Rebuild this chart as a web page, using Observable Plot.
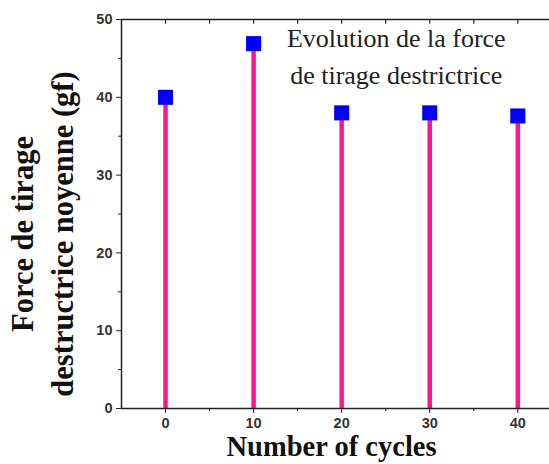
<!DOCTYPE html>
<html>
<head>
<meta charset="utf-8">
<script src="https://cdn.jsdelivr.net/npm/d3@7"></script>
<script src="https://cdn.jsdelivr.net/npm/@observablehq/plot@0.6"></script>
<style>
body { margin: 0; background: #fff; }
</style>
</head>
<body>
<div id="chart"></div>
<script>
const cycles = [0, 10, 20, 30, 40];
const force = [40, 46.9, 38, 38, 37.6];
const yMajor = [0, 10, 20, 30, 40, 50];
const yMinor = [5, 15, 25, 35, 45];
const xMajor = [0, 10, 20, 30, 40];
const xMinor = [5, 15, 25, 35];
const titleLines = ["Evolution de la force", "de tirage destrictrice"];
const yTitle = ["Force de tirage", "destructrice noyenne (gf)"];
const xTitle = "Number of cycles";

const data = cycles.map((c, i) => ({cycle: c, force: force[i]}));
const tickFont = {fontFamily: "Liberation Sans, Arial, sans-serif", fontWeight: "bold", fontSize: 14.5, fill: "#333"};
const serif = "Liberation Serif, Times New Roman, serif";

const chart = Plot.plot({
  width: 549,
  height: 464,
  marginLeft: 121,
  marginRight: 0,
  marginTop: 19,
  marginBottom: 56,
  style: {background: "#fff", overflow: "visible"},
  x: {domain: [-5, 43.6]},
  y: {domain: [0, 50]},
  marks: [
    Plot.ruleX(data, {x: "cycle", y1: 0, y2: "force", stroke: "#ff1493", strokeWidth: 4.5}),
    Plot.dot(data, {x: "cycle", y: "force", symbol: "square", r: 8.5, fill: "#0000ff", stroke: "none"}),
    Plot.ruleX([-5], {stroke: "#222", strokeWidth: 1.5}),
    Plot.ruleY([0], {stroke: "#222", strokeWidth: 1.5}),
    Plot.ruleY([50], {stroke: "#222", strokeWidth: 1.5}),
    Plot.axisY({ticks: yMajor, tickSize: 5, tickPadding: 4, label: null, tickFormat: d => d, ...tickFont, stroke: "#222"}),
    Plot.axisY({ticks: yMinor, tickSize: 3, text: null, label: null, stroke: "#222"}),
    Plot.axisX({ticks: xMajor, tickSize: 5, tickPadding: 4, label: null, tickFormat: d => d, ...tickFont, stroke: "#222"}),
    Plot.axisX({ticks: xMinor, tickSize: 3, text: null, label: null, stroke: "#222"}),
    Plot.ruleX(xMajor, {x: d => d, y1: 50, y2: 49.4, stroke: "#222", strokeWidth: 1.2}),
    Plot.ruleX(xMinor, {x: d => d, y1: 50, y2: 49.4, stroke: "#222", strokeWidth: 1.2}),
    Plot.text([titleLines.join("\n")], {
      x: 26.2, y: 50, text: d => d, lineAnchor: "top", dy: 2, lineHeight: 1.4,
      fontFamily: serif, fontSize: 26, fill: "#222"
    }),
    Plot.text([yTitle.join("\n")], {
      frameAnchor: "left", textAnchor: "middle", text: d => d, rotate: -90, dx: -81, dy: 20,
      lineHeight: 1.31, lineAnchor: "middle",
      fontFamily: serif, fontWeight: "bold", fontSize: 30.5, fill: "#111"
    }),
    Plot.text([xTitle], {
      frameAnchor: "bottom", x: 18.85, text: d => d, dy: 47.5,
      fontFamily: serif, fontWeight: "bold", fontSize: 28.5, fill: "#111"
    })
  ]
});
document.getElementById("chart").appendChild(chart);
</script>
</body>
</html>
